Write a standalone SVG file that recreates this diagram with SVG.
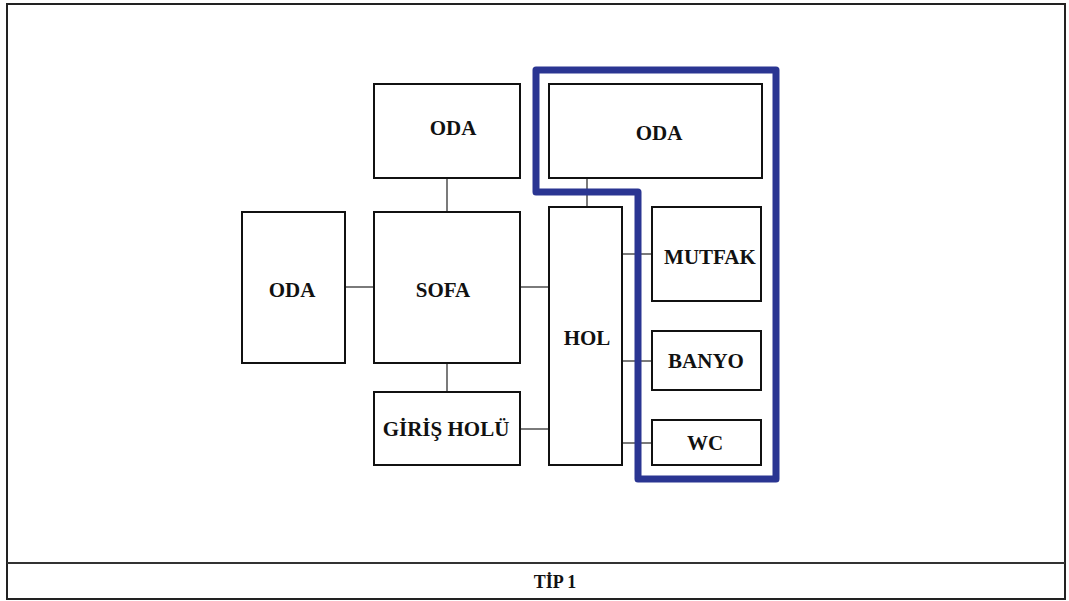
<svg xmlns="http://www.w3.org/2000/svg" width="1069" height="601" viewBox="0 0 1069 601">
<style>
.box{fill:#fff;stroke:#111;stroke-width:2}
.lbl{font-family:"Liberation Serif","Times New Roman",serif;font-weight:bold;font-size:21px;fill:#111;text-anchor:middle}
.con line{stroke:#222;stroke-width:1.2}
</style>
<rect x="0" y="0" width="1069" height="601" fill="#fff"/>
<rect x="7" y="4" width="1058" height="595" fill="none" stroke="#222" stroke-width="2"/>
<line x1="7" y1="563" x2="1065" y2="563" stroke="#333" stroke-width="2"/>
<text x="555" y="588" font-family="'Liberation Serif','Times New Roman',serif" font-weight="bold" font-size="18" text-anchor="middle" fill="#111">TİP 1</text>
<g class="con">
<line x1="447" y1="178" x2="447" y2="212"/>
<line x1="587" y1="178" x2="587" y2="207"/>
<line x1="345" y1="287" x2="374" y2="287"/>
<line x1="520" y1="287" x2="549" y2="287"/>
<line x1="447" y1="363" x2="447" y2="392"/>
<line x1="520" y1="429" x2="549" y2="429"/>
<line x1="622" y1="254" x2="652" y2="254"/>
<line x1="622" y1="361" x2="652" y2="361"/>
<line x1="622" y1="443" x2="652" y2="443"/>
</g>
<g id="oda1"><rect class="box" x="374" y="84" width="146" height="94"/><text class="lbl" x="453" y="135">ODA</text></g>
<g id="oda2"><rect class="box" x="549" y="84" width="213" height="94"/><text class="lbl" x="659" y="140">ODA</text></g>
<g id="oda3"><rect class="box" x="242" y="212" width="103" height="151"/><text class="lbl" x="292" y="297">ODA</text></g>
<g id="sofa"><rect class="box" x="374" y="212" width="146" height="151"/><text class="lbl" x="443" y="297">SOFA</text></g>
<g id="giris"><rect class="box" x="374" y="392" width="146" height="73"/><text class="lbl" x="446" y="436">GİRİŞ HOLÜ</text></g>
<g id="hol"><rect class="box" x="549" y="207" width="73" height="258"/><text class="lbl" x="587" y="345">HOL</text></g>
<g id="mutfak"><rect class="box" x="652" y="207" width="109" height="94"/><text class="lbl" x="710" y="264">MUTFAK</text></g>
<g id="banyo"><rect class="box" x="652" y="331" width="109" height="59"/><text class="lbl" x="706" y="368">BANYO</text></g>
<g id="wc"><rect class="box" x="652" y="420" width="109" height="45"/><text class="lbl" x="705" y="450">WC</text></g>
<g id="zone"><path d="M536 70 H776 V479 H638 V192 H536 Z" fill="none" stroke="#2a3592" stroke-width="7" stroke-linejoin="round"/></g>
</svg>
